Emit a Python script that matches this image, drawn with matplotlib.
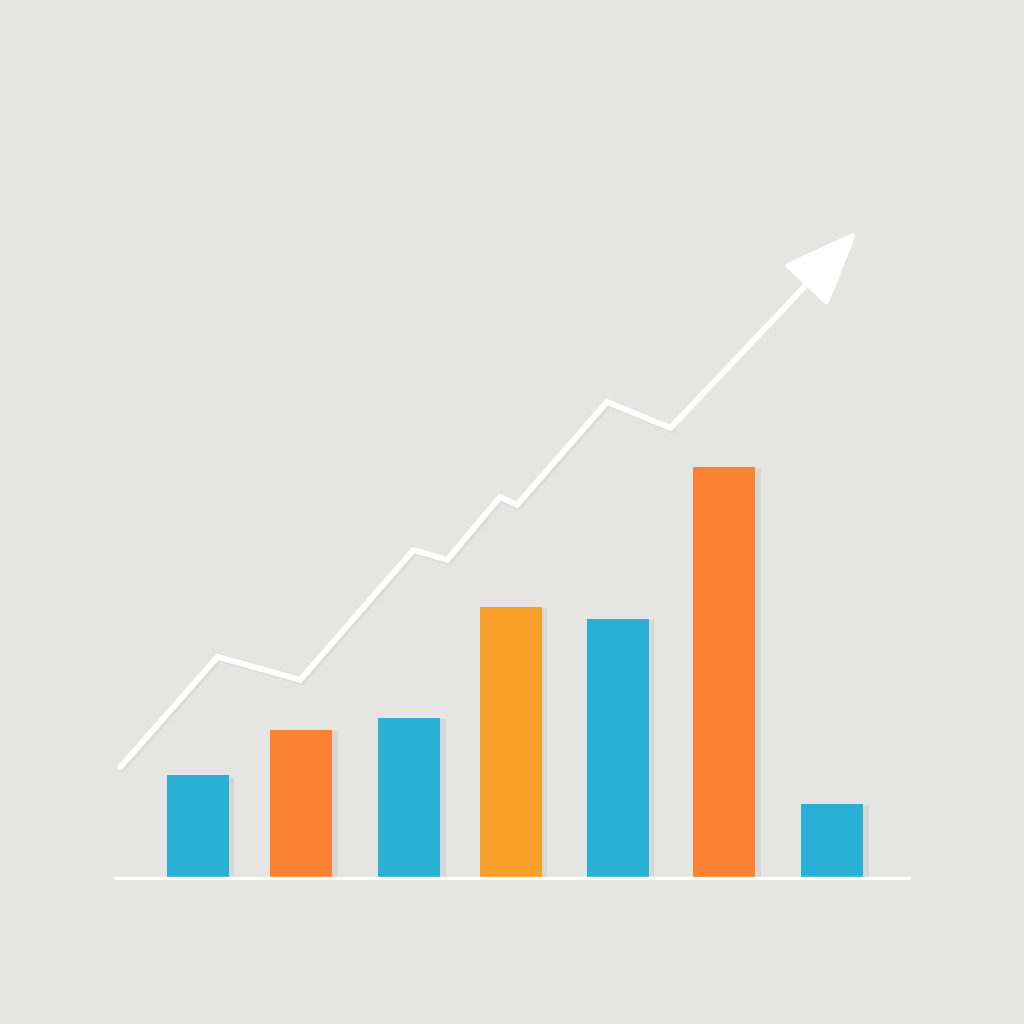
import matplotlib
matplotlib.use("Agg")
import matplotlib.pyplot as plt
import matplotlib.patheffects as pe

# bar data (arbitrary units, baseline = 0); positions
bar_pos = [0, 0.98, 2.0, 2.96, 3.97, 4.98, 6.0]
bar_vals = [2.5, 3.6, 3.9, 6.6, 6.3, 10.0, 1.8]
bar_colors = ["#2bb0d5", "#fa8232", "#2bb0d5", "#f9a02a", "#2bb0d5", "#fa8232", "#2bb0d5"]

# trend line vertices, arrow tip separately
line_x = [-0.73, 0.19, 0.97, 2.04, 2.36, 2.86, 3.02, 3.87, 4.47]
line_y = [2.70, 5.38, 4.82, 7.98, 7.74, 9.27, 9.08, 11.58, 10.95]
tip_x, tip_y = 6.24, 15.75

BG = "#e5e5e3"

fig = plt.figure(figsize=(10.24, 10.24), dpi=100)
fig.patch.set_facecolor(BG)
ax = fig.add_axes([0, 0, 1, 1])
ax.set_facecolor(BG)
ax.set_xlim(-1.867, 7.812)
ax.set_ylim(-3.55, 21.36)
ax.axis("off")

bars = ax.bar(bar_pos, bar_vals, width=0.586, color=bar_colors, zorder=3)
for b in bars:
    b.set_path_effects([pe.SimplePatchShadow(offset=(4, -1), shadow_rgbFace="#b0b0b0", alpha=0.25), pe.Normal()])

# baseline
ax.hlines(0, -0.79, 6.73, color="white", lw=2.4, zorder=4)

# zigzag trend line with arrow
shadow = [pe.SimpleLineShadow(offset=(1.5, -1.5), shadow_color="#b5b5b5", alpha=0.2), pe.Normal()]
ax.plot(line_x, line_y, color="white", lw=4.2, solid_joinstyle="miter",
        solid_capstyle="round", zorder=5, path_effects=shadow)
ax.annotate("", xy=(tip_x, tip_y), xytext=(line_x[-1], line_y[-1]),
            arrowprops=dict(arrowstyle="-|>,head_length=0.6,head_width=0.24",
                            mutation_scale=78, lw=4.2, color="white",
                            shrinkA=0, shrinkB=0),
            zorder=5)

fig.savefig("out.png", dpi=100, facecolor=fig.get_facecolor())
